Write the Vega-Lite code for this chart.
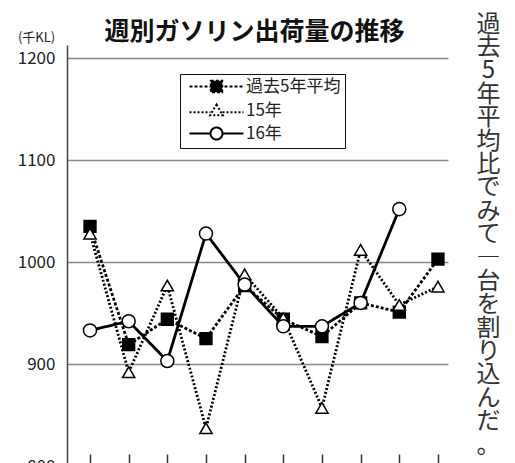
{
  "$schema": "https://vega.github.io/schema/vega-lite/v6.json",
  "width": 381,
  "height": 421,
  "autosize": {"type": "none"},
  "padding": {"left": 67, "top": 45, "right": 67, "bottom": 0},
  "background": "white",
  "config": {"font": "Noto Sans CJK JP", "view": {"stroke": null}},
  "title": {"text": "週別ガソリン出荷量の推移", "fontSize": 25, "fontWeight": "bold", "anchor": "middle", "color": "#111", "baseline": "alphabetic", "offset": 0, "dy": 53, "dx": -3},
  "data": {"values": [
    {"series": "過去5年平均", "week": 1, "value": 1035},
    {"series": "過去5年平均", "week": 2, "value": 919},
    {"series": "過去5年平均", "week": 3, "value": 944},
    {"series": "過去5年平均", "week": 4, "value": 925},
    {"series": "過去5年平均", "week": 5, "value": 977},
    {"series": "過去5年平均", "week": 6, "value": 944},
    {"series": "過去5年平均", "week": 7, "value": 927},
    {"series": "過去5年平均", "week": 8, "value": 960},
    {"series": "過去5年平均", "week": 9, "value": 951},
    {"series": "過去5年平均", "week": 10, "value": 1003},
    {"series": "15年", "week": 1, "value": 1028},
    {"series": "15年", "week": 2, "value": 892},
    {"series": "15年", "week": 3, "value": 977},
    {"series": "15年", "week": 4, "value": 837},
    {"series": "15年", "week": 5, "value": 988},
    {"series": "15年", "week": 6, "value": 945},
    {"series": "15年", "week": 7, "value": 857},
    {"series": "15年", "week": 8, "value": 1012},
    {"series": "15年", "week": 9, "value": 958},
    {"series": "15年", "week": 10, "value": 976},
    {"series": "16年", "week": 1, "value": 933},
    {"series": "16年", "week": 2, "value": 942},
    {"series": "16年", "week": 3, "value": 903},
    {"series": "16年", "week": 4, "value": 1028},
    {"series": "16年", "week": 5, "value": 978},
    {"series": "16年", "week": 6, "value": 937},
    {"series": "16年", "week": 7, "value": 937},
    {"series": "16年", "week": 8, "value": 960},
    {"series": "16年", "week": 9, "value": 1052}
  ]},
  "layer": [
    {
      "mark": {"type": "line", "color": "black", "strokeWidth": 2.8},
      "encoding": {
        "x": {"field": "week", "type": "quantitative", "scale": {"domain": [0.405, 10.26], "nice": false, "zero": false},
          "axis": {"values": [1,2,3,4,5,6,7,8,9,10], "labels": false, "domain": false, "grid": false, "offset": -12, "tickSize": 12, "tickColor": "#333", "tickWidth": 1.5, "title": null}},
        "y": {"field": "value", "type": "quantitative", "scale": {"domain": [800, 1213], "nice": false, "zero": false},
          "axis": {"values": [800, 900, 1000, 1100, 1200], "format": "d", "grid": true, "gridColor": "#888", "gridWidth": 1.5, "domainColor": "#444", "domainWidth": 1.5, "ticks": false, "labelPadding": 12, "labelFontSize": 17, "labelColor": "#222", "title": "(千KL)", "titleAngle": 0, "titleAlign": "center", "titleBaseline": "middle", "titleX": -31, "titleY": -8, "titleFontSize": 13, "titleFontWeight": "normal", "titleColor": "#222"}},
        "strokeDash": {"field": "series", "type": "nominal", "scale": {"domain": ["過去5年平均", "15年", "16年"], "range": [[3, 2], [2, 2], [1, 0]]},
          "legend": {"title": null, "orient": "none", "legendX": 113, "legendY": 29, "padding": 4, "strokeColor": "#111", "fillColor": "white", "labelFontSize": 17, "labelColor": "#222", "symbolSize": 144, "symbolOffset": 24, "labelOffset": 21, "rowPadding": 3, "symbolStrokeColor": "black", "symbolStrokeWidth": 2,
            "encode": {"symbols": {"update": {
              "shape": {"signal": "datum.value === '過去5年平均' ? 'M-4.5,0H4.5M-0.95,-0.95H0.95V0.95H-0.95Z' : datum.value === '15年' ? 'M-4.5,0.3H-1M1,0.3H4.5M0,-1L1.05,0.8L-1.05,0.8Z' : 'M-4.5,0H-1M1,0H4.5M1,0A1,1,0,1,1,-1,0A1,1,0,1,1,1,0Z'"},
              "fill": {"signal": "datum.value === '過去5年平均' ? 'black' : 'white'"},
              "stroke": {"value": "black"},
              "strokeWidth": {"value": 2},
              "strokeOpacity": {"value": 1},
              "opacity": {"value": 1}
            }}}}}
      }
    },
    {
      "transform": [{"filter": "datum.series === '過去5年平均'"}],
      "mark": {"type": "point", "shape": "square", "filled": true, "fill": "black", "stroke": "black", "strokeWidth": 1.5, "size": 140, "opacity": 1},
      "encoding": {
        "x": {"field": "week", "type": "quantitative"},
        "y": {"field": "value", "type": "quantitative",
          "axis": {"orient": "right", "domain": false, "ticks": false, "labels": false, "grid": false,
            "title": ["過", "去", "5", "年", "平", "均", "比", "で", "み", "て", "―", "台", "を", "割", "り", "込", "ん", "だ", "。"],
            "titleAngle": 0, "titleAlign": "center", "titleBaseline": "top", "titleX": 40, "titleY": -33, "titleFontSize": 24, "titleLineHeight": 23.4, "titleFontWeight": "normal", "titleColor": "#333"}}
      }
    },
    {
      "transform": [{"filter": "datum.series === '15年'"}],
      "mark": {"type": "point", "shape": "triangle-up", "filled": true, "fill": "white", "stroke": "black", "strokeWidth": 1.5, "size": 150, "opacity": 1},
      "encoding": {
        "x": {"field": "week", "type": "quantitative"},
        "y": {"field": "value", "type": "quantitative", "axis": null}
      }
    },
    {
      "transform": [{"filter": "datum.series === '16年'"}],
      "mark": {"type": "point", "shape": "circle", "filled": true, "fill": "white", "stroke": "black", "strokeWidth": 1.5, "size": 170, "opacity": 1},
      "encoding": {
        "x": {"field": "week", "type": "quantitative"},
        "y": {"field": "value", "type": "quantitative", "axis": null}
      }
    }
  ],
  "resolve": {"axis": {"y": "independent"}}
}
